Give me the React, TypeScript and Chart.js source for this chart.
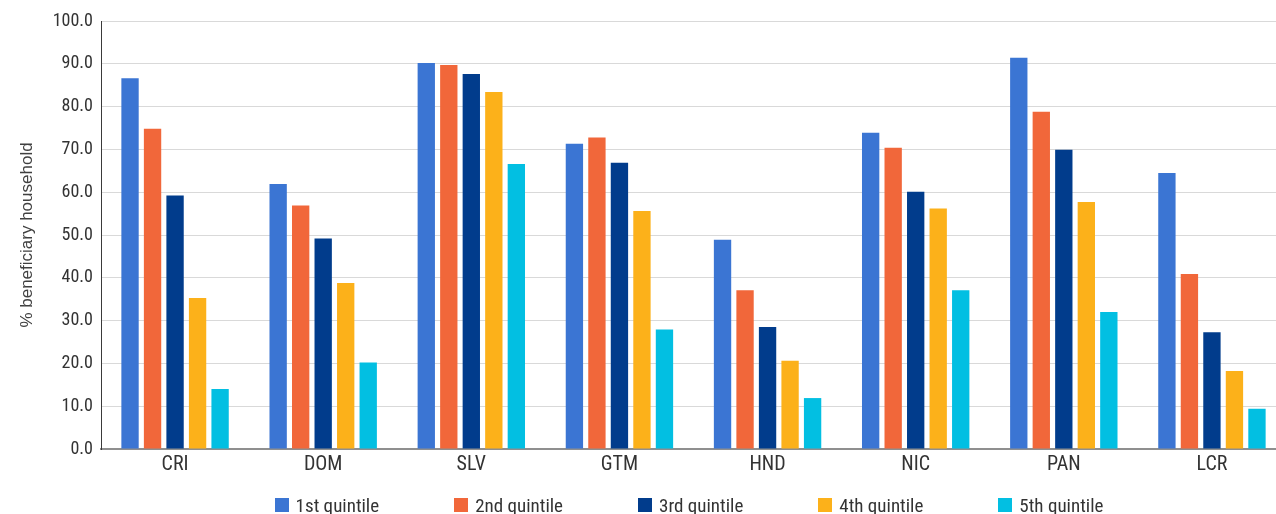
import React, { useEffect, useRef } from "react";
import { Chart, registerables } from "chart.js";

Chart.register(...registerables);

const categories = ["CRI", "DOM", "SLV", "GTM", "HND", "NIC", "PAN", "LCR"];
const quintile1 = [86.6, 61.9, 90.2, 71.3, 48.9, 73.9, 91.4, 64.5];
const quintile2 = [74.8, 56.9, 89.7, 72.8, 37.1, 70.4, 78.8, 40.9];
const quintile3 = [59.2, 49.2, 87.6, 66.9, 28.5, 60.1, 69.9, 27.3];
const quintile4 = [35.3, 38.8, 83.4, 55.6, 20.6, 56.2, 57.7, 18.2];
const quintile5 = [14.0, 20.2, 66.6, 27.9, 11.9, 37.1, 32.0, 9.4];
const seriesLabels = ["1st quintile", "2nd quintile", "3rd quintile", "4th quintile", "5th quintile"];
const seriesColors = ["#3B75D3", "#F1673A", "#013C8C", "#FCB11A", "#02BFE2"];
const yAxisTitle = "% beneficiary household";

const NARROW = "'Roboto Condensed', 'Liberation Sans Narrow', 'Arial Narrow', 'DejaVu Sans Condensed', Roboto, sans-serif";
const REGULAR = "'Liberation Sans', Arial, sans-serif";

export default function App() {
  const canvasRef = useRef<HTMLCanvasElement | null>(null);

  useEffect(() => {
    const canvas = canvasRef.current;
    if (!canvas) return;
    const seriesValues = [quintile1, quintile2, quintile3, quintile4, quintile5];
    const chart = new Chart(canvas, {
      type: "bar",
      data: {
        labels: categories,
        datasets: seriesLabels.map((label, i) => ({
          label,
          data: seriesValues[i],
          backgroundColor: seriesColors[i],
          borderWidth: 0,
          categoryPercentage: 0.76,
          barPercentage: 0.77,
        })),
      },
      options: {
        responsive: false,
        animation: false,
        devicePixelRatio: 1,
        layout: { padding: { top: 21, right: 0, bottom: 0, left: 0 } },
        plugins: {
          legend: { display: false },
          tooltip: { enabled: false },
        },
        scales: {
          x: {
            grid: { display: false, drawTicks: false },
            border: { display: true, color: "#8f8f8f", width: 2 },
            ticks: {
              padding: 4,
              color: "#333333",
              font: { family: NARROW, size: 20 },
            },
            afterFit: (scale: any) => {
              scale.height = 65;
            },
          },
          y: {
            min: 0,
            max: 100,
            ticks: {
              stepSize: 10,
              padding: 8,
              color: "#333333",
              font: { family: NARROW, size: 18 },
              callback: (v: any) => Number(v).toFixed(1),
            },
            grid: { color: "#d9d9d9", lineWidth: 1, drawTicks: false },
            border: { display: true, color: "#3a3a3a", width: 1 },
            title: {
              display: true,
              text: yAxisTitle,
              color: "#404040",
              font: { family: REGULAR, size: 17 },
              padding: { top: 17, bottom: 0 },
            },
            afterFit: (scale: any) => {
              scale.width = 101;
            },
          },
        },
      },
    });
    return () => chart.destroy();
  }, []);

  return (
    <div
      style={{
        position: "fixed",
        left: 0,
        top: 0,
        width: 1276,
        height: 514,
        overflow: "hidden",
        background: "#ffffff",
      }}
    >
      <canvas ref={canvasRef} width={1286} height={514} style={{ width: 1286, height: 514, display: "block" }} />
      <div
        style={{
          position: "absolute",
          left: 0,
          top: 494.5,
          width: 1378,
          height: 21,
          display: "flex",
          justifyContent: "center",
          alignItems: "center",
          gap: 75,
          fontFamily: NARROW,
          fontSize: 19,
          lineHeight: "21px",
          color: "#333333",
          whiteSpace: "nowrap",
        }}
      >
        {seriesLabels.map((label, i) => (
          <div key={label} style={{ display: "flex", alignItems: "center" }}>
            <span
              style={{
                display: "inline-block",
                width: 14,
                height: 14,
                background: seriesColors[i],
                marginRight: 7,
              }}
            />
            <span>{label}</span>
          </div>
        ))}
      </div>
    </div>
  );
}
